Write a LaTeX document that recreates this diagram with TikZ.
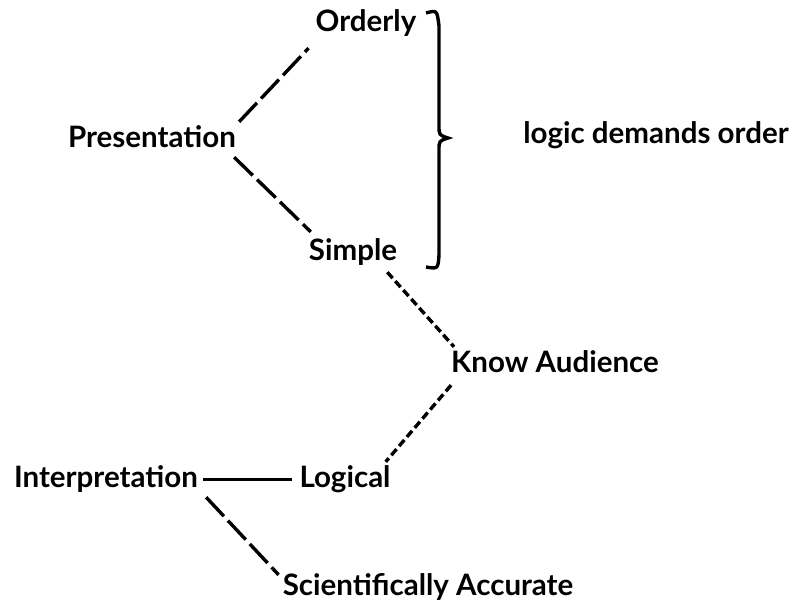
\documentclass[tikz,border=0pt]{standalone}
\usepackage{fontspec}
\setmainfont{Lato}
\usetikzlibrary{positioning}

\tikzset{
    word/.style={anchor=base, inner sep=0pt, text height=21pt, text depth=6pt,
        font=\fontsize{29.5}{34}\selectfont\bfseries},
    longdash/.style={line width=3.4pt, dash pattern=on 26pt off 6pt},
    shortdash/.style={line width=3.4pt, dash pattern=on 8pt off 4pt},
}

\begin{document}
\begin{tikzpicture}[x=1pt, y=-1pt]
        \useasboundingbox (0, 0) rectangle (803, 607);

        \node[word] (orderly) at (366, 32) {Orderly};
        \node[word] (present) at (152, 148) {Presentation};
        \node[word] (simple) at (353, 260) {Simple};
        \node[word] (logic) at (656, 143) {logic demands order};
        \node[word] (audience) at (555, 372) {Know Audience};
        \node[word] (interp) at (106, 487) {Interpretation};
        \node[word] (logical) at (345, 487) {Logical};
        \node[word] (accurate) at (428, 595) {Scientifically Accurate};

        \draw[longdash] ([shift={(3,-5)}]present.north east) -- ([shift={(-7,10)}]orderly.south west);
        \draw[longdash] ([shift={(-2,3)}]present.south east) -- ([shift={(2,-7)}]simple.north west);
        \draw[shortdash] ([shift={(-10,6)}]simple.south east) -- ([shift={(3,-4)}]audience.north west);
        \draw[shortdash] ([shift={(0,7)}]audience.south west) -- ([shift={(-5,-4)}]logical.north east);
        \draw[line width=3pt] ([xshift=5pt]interp.east) -- ([xshift=-7pt]logical.west);
        \draw[longdash] ([shift={(8,4)}]interp.south east) -- ([shift={(-4,1)}]accurate.north west);

        % brace
        \draw[line width=3.4pt] (426, 13) .. controls (437, 10) .. (439, 26)
            -- (439, 126) .. controls (439, 135) .. (448, 138)
            .. controls (439, 141) .. (439, 150)
            -- (439, 255) .. controls (438, 269) .. (426, 267);
    \end{tikzpicture}
\end{document}
